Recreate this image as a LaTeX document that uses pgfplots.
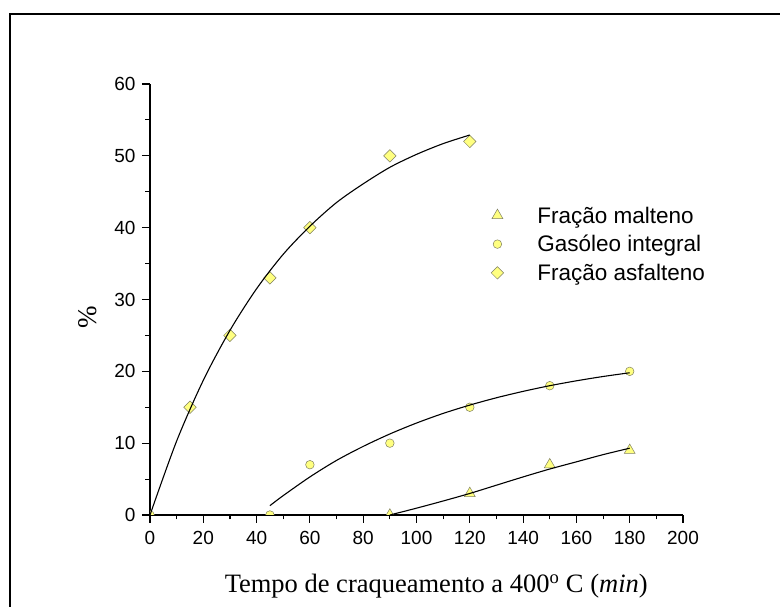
\documentclass[border=0pt]{standalone}
\usepackage{pgfplots}
\pgfplotsset{compat=1.18}
\usepackage{fontspec}
\setmainfont{Liberation Serif}
\setsansfont{Liberation Sans}

\definecolor{mkfill}{HTML}{FFFF80}
\definecolor{mkedge}{HTML}{7F7F60}

% measured points
\pgfplotstableread{
t   y
90  0
120 3
150 7
180 9
}\malteno
\pgfplotstableread{
t   y
0   0
45  0
60  7
90  10
120 15
150 18
180 20
}\gasoleo
\pgfplotstableread{
t   y
15  15
30  25
45  33
60  40
90  50
120 52
}\asfalteno

\begin{document}
\begin{tikzpicture}[x=1pt,y=1pt]
\useasboundingbox (0,0) rectangle (780,607);
\draw[line width=2pt] (9.5,-3) -- (9.5,593) -- (790,593);
\begin{axis}[
  at={(150pt,92pt)}, anchor=south west,
  scale only axis, width=533pt, height=431pt,
  xmin=0, xmax=200, ymin=0, ymax=60,
  axis x line=bottom, axis y line=left,
  axis line style={-, line width=1.2pt},
  xtick={0,20,...,200}, ytick={0,10,...,60},
  minor x tick num=1, minor y tick num=1,
  tick align=outside, major tick length=8pt, minor tick length=4.5pt,
  every tick/.style={black, line width=1.1pt},
  tick label style={font=\fontsize{19}{21}\selectfont\sffamily},
  xticklabel style={yshift=-5pt},
  yticklabel style={xshift=-3pt},
  /pgf/number format/assume math mode=true,
  xlabel={Tempo de craqueamento a 400\textsuperscript{o} C (\textit{min})},
  xlabel style={at={(axis description cs:0.537,-0.180)}, anchor=base,
    font=\fontsize{26.5}{30}\selectfont},
  ylabel={\%},
  ylabel style={at={(axis description cs:-0.116,0.459)}, anchor=center,
    font=\fontsize{27}{30}\selectfont},
  clip marker paths=true,
  legend cell align=left,
  legend style={at={(axis description cs:0.6398,0.7135)}, anchor=north west,
    draw=none, fill=none, inner sep=0pt, row sep=13.2pt,
    nodes={inner sep=0pt, text height=15.5pt, text depth=0pt,
      font=\fontsize{22.5}{25}\selectfont\sffamily}},
  legend image code/.code={%
    \draw[#1] plot coordinates {(0pt,0pt)};
    \path[draw=none, fill=none] (-6pt,0pt) -- (40pt,0pt);},
]
\addplot[only marks, mark=triangle*, mark size=6.3pt,
  mark options={fill=mkfill, draw=mkedge, line width=0.5pt}]
  table[x=t, y=y] {\malteno};
\addlegendentry{Fração malteno}
\addplot[only marks, mark=*, mark size=4.3pt,
  mark options={fill=mkfill, draw=mkedge, line width=0.5pt}]
  table[x=t, y=y] {\gasoleo};
\addlegendentry{Gasóleo integral}
\addplot[only marks, mark=square*, mark size=4.4pt,
  mark options={rotate=45, fill=mkfill, draw=mkedge, line width=0.5pt}]
  table[x=t, y=y] {\asfalteno};
\addlegendentry{Fração asfalteno}

% fitted curves
\addplot[forget plot, black, line width=1.1pt, smooth] coordinates {
  (0,0) (10,10.3) (20,18.75) (30,25.7) (40,31.5) (50,36.3) (60,40.2)
  (70,43.5) (80,46.1) (90,48.4) (100,50.2) (110,51.7) (120,52.9)};
\addplot[forget plot, black, line width=1.1pt, smooth] coordinates {
  (45,1.3) (50,2.7) (60,5.3) (70,7.6) (80,9.55) (90,11.28) (100,12.8)
  (110,14.14) (120,15.3) (130,16.32) (140,17.21) (150,18.0) (160,18.68)
  (170,19.28) (180,19.8)};
\addplot[forget plot, black, line width=1.1pt, smooth] coordinates {
  (90,0) (100,0.95) (110,1.95) (120,3.0) (130,4.15) (140,5.3) (150,6.4)
  (160,7.4) (170,8.4) (180,9.3)};
\end{axis}
\end{tikzpicture}
\end{document}
